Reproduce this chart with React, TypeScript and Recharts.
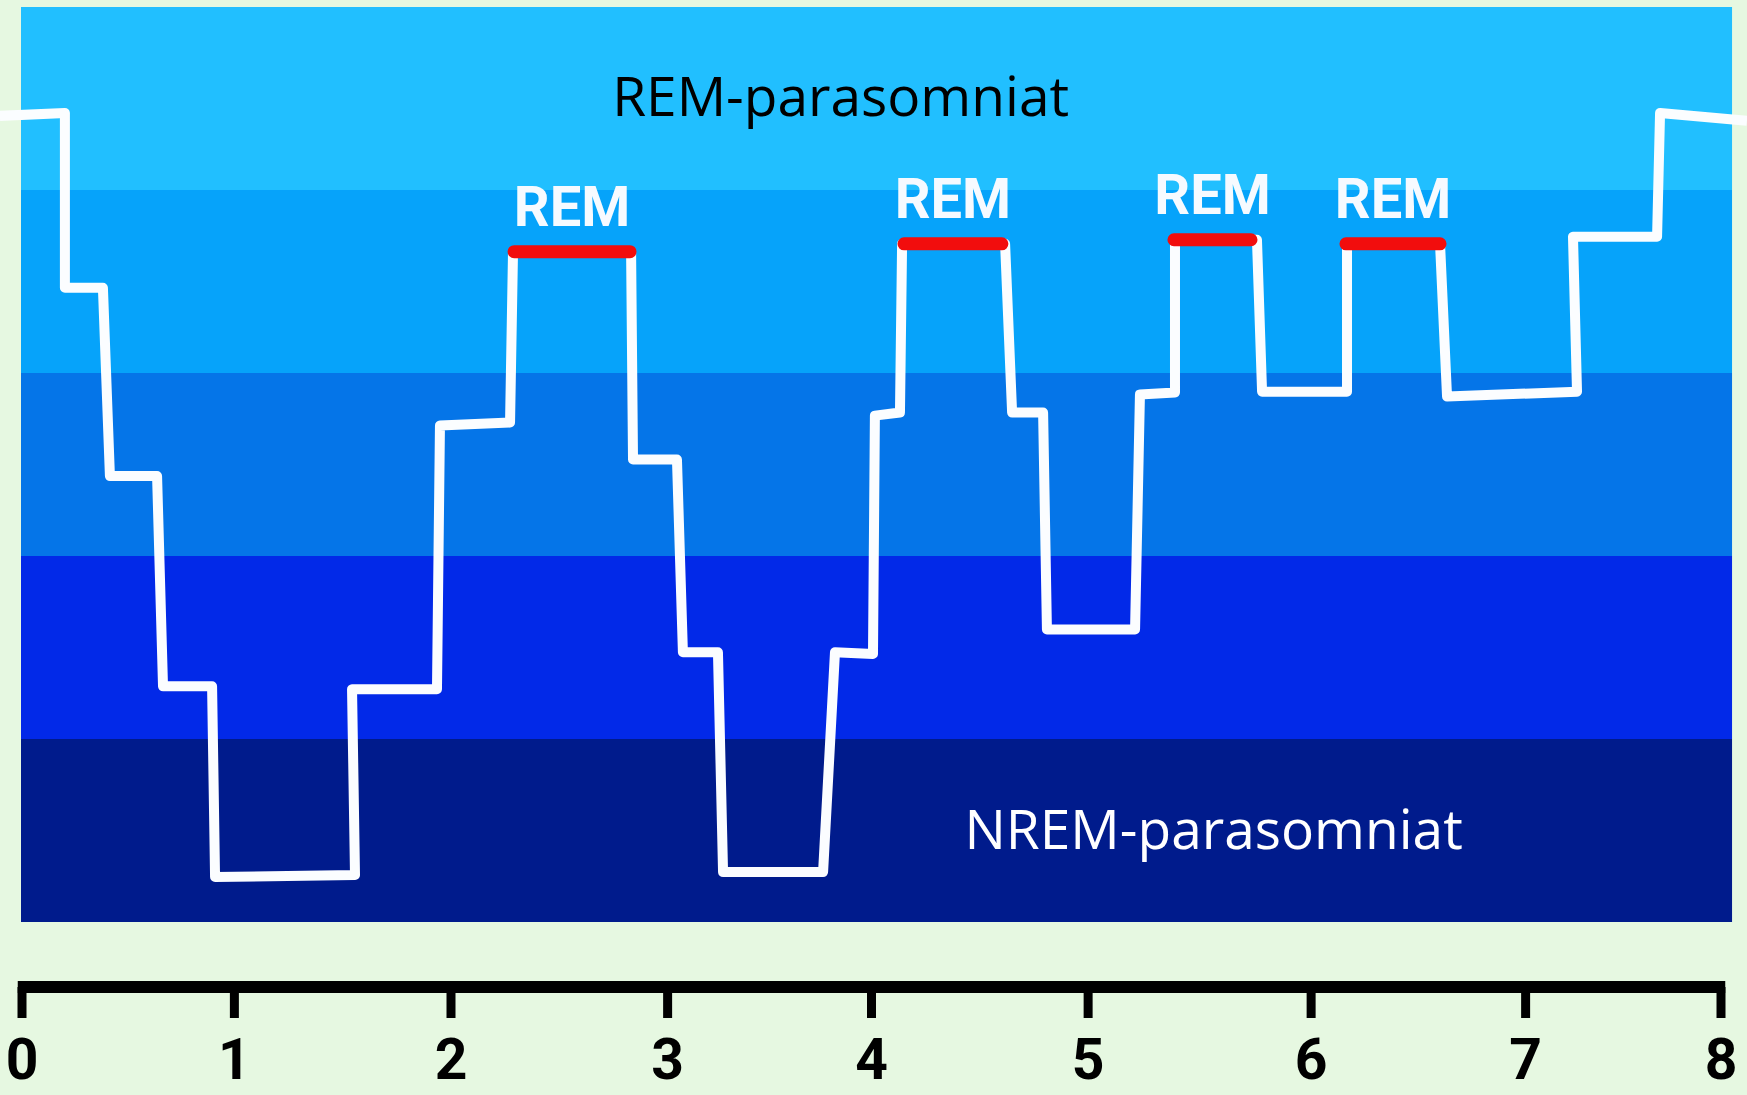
import { ComposedChart, Line, XAxis, YAxis, ReferenceArea, ReferenceLine, LabelList } from "recharts";

// hours of sleep on the x axis (the hand drawn ruler is a little uneven)
const HOUR_LABELS = ["0", "1", "2", "3", "4", "5", "6", "7", "8"];
const HOUR_TICKS = [0, 1.0, 2.02, 3.04, 4.0, 5.02, 6.07, 7.08, 8.0];

// sleep depth, one unit per band (0 = top of the wake band, 5 = bottom of the deepest band)
const BAND_INDEX = [0, 1, 2, 3, 4];
const BAND_TEXT = ["REM-parasomniat", "", "", "", "NREM-parasomniat"];

// hypnogram trace (hand drawn, so verticals are slightly slanted)
const HYPNO_T = [
  -0.104, 0.202, 0.202, 0.381, 0.414, 0.636, 0.664, 0.895, 0.909, 1.568, 1.554, 1.954, 1.968, 2.298, 2.312,
  2.868, 2.877, 3.084, 3.112, 3.277, 3.301, 3.772, 3.828, 4.007, 4.016, 4.134, 4.144, 4.629, 4.662, 4.808,
  4.826, 5.241, 5.264, 5.429, 5.429, 5.815, 5.839, 6.239, 6.239, 6.677, 6.71, 7.322, 7.303, 7.699, 7.713, 8.122,
];
const HYPNO_DEPTH = [
  0.595, 0.579, 1.534, 1.534, 2.563, 2.563, 3.712, 3.712, 4.754, 4.743, 3.728, 3.728, 2.287, 2.271, 1.337,
  1.337, 2.473, 2.473, 3.526, 3.526, 4.727, 4.727, 3.526, 3.535, 2.233, 2.216, 1.294, 1.294, 2.216, 2.216,
  3.401, 3.401, 2.118, 2.107, 1.272, 1.272, 2.102, 2.102, 1.294, 1.294, 2.129, 2.102, 1.255, 1.255, 0.579, 0.622,
];

// REM periods
const REM_START = [2.317, 4.153, 5.424, 6.234];
const REM_END = [2.863, 4.614, 5.787, 6.677];
const REM_DEPTH = [1.337, 1.294, 1.272, 1.294];
const REM_LABEL = "REM";

const W = 1747;
const H = 1095;
const X_DOMAIN = [-0.1036, 8.1224];
const Y_DOMAIN = [-0.0382, 5.355];
const PLOT_X = [-0.0047, 8.052];
const BAND_COLORS = ["#21bfff", "#06a3fa", "#0575e8", "#0229e8", "#001b8c"];
const TEXT_COLORS = ["#000000", "#fff", "#fff", "#fff", "#ffffff"];
const BAND_TEXT_POS = [0.479, 0.5, 0.5, 0.5, 0.697];

const bandLabel = (i: number) => (props: any) => {
  const vb = props.viewBox || {};
  if (!BAND_TEXT[i]) return null;
  return (
    <text
      x={vb.x + vb.width * BAND_TEXT_POS[i]}
      y={vb.y + vb.height / 2 + 18}
      textAnchor="middle"
      fill={TEXT_COLORS[i]}
      fontFamily="'Open Sans', sans-serif"
      fontSize={55}
    >
      {BAND_TEXT[i]}
    </text>
  );
};

const remTag = (props: any) => {
  if (!props.value) return null;
  return (
    <text
      x={props.x}
      y={props.y - 26}
      textAnchor="middle"
      fill="#f6faff"
      fontFamily="Roboto, sans-serif"
      fontWeight={700}
      fontSize={56}
    >
      {props.value}
    </text>
  );
};

export default function App() {
  const hypno = HYPNO_T.map((t, i) => ({ t, depth: HYPNO_DEPTH[i] }));
  const rem = REM_START.flatMap((s, i) => [
    { t: s, rem: REM_DEPTH[i] },
    { t: (s + REM_END[i]) / 2, rem: REM_DEPTH[i], tag: REM_LABEL },
    { t: REM_END[i], rem: REM_DEPTH[i] },
    { t: REM_END[i] + 0.01, rem: null },
  ]);

  return (
    <div style={{ position: "absolute", left: 0, top: 0, width: W, height: H, background: "#e6f8e1" }}>
      <ComposedChart width={W} height={H} margin={{ top: 0, right: 0, bottom: 0, left: 0 }}>
        <XAxis
          type="number"
          dataKey="t"
          domain={X_DOMAIN}
          allowDataOverflow
          ticks={HOUR_TICKS}
          tickFormatter={(v: number) => HOUR_LABELS[HOUR_TICKS.indexOf(v)] ?? String(Math.round(v))}
          interval={0}
          axisLine={false}
          tickLine={{ stroke: "#000", strokeWidth: 9 }}
          tickSize={31}
          tickMargin={21}
          height={108}
          tick={{ fill: "#000", fontSize: 57, fontFamily: "Roboto, sans-serif", fontWeight: 700 }}
        />
        <YAxis type="number" hide reversed domain={Y_DOMAIN} allowDataOverflow />
        {BAND_INDEX.map((b) => (
          <ReferenceArea
            key={b}
            x1={PLOT_X[0]}
            x2={PLOT_X[1]}
            y1={b}
            y2={b + 1}
            fill={BAND_COLORS[b]}
            fillOpacity={1}
            stroke="none"
            ifOverflow="visible"
            label={bandLabel(b)}
          />
        ))}
        <ReferenceLine
          segment={[
            { x: -0.02, y: Y_DOMAIN[1] },
            { x: 8.02, y: Y_DOMAIN[1] },
          ]}
          stroke="#000"
          strokeWidth={12}
          ifOverflow="visible"
        />
        <Line
          data={hypno}
          dataKey="depth"
          type="linear"
          stroke="#fbfdff"
          strokeWidth={10}
          strokeLinejoin="round"
          dot={false}
          activeDot={false}
          isAnimationActive={false}
        />
        <Line
          data={rem}
          dataKey="rem"
          type="linear"
          stroke="#f20d0d"
          strokeWidth={13}
          strokeLinecap="round"
          dot={false}
          activeDot={false}
          isAnimationActive={false}
        >
          <LabelList dataKey="tag" content={remTag} />
        </Line>
      </ComposedChart>
    </div>
  );
}
